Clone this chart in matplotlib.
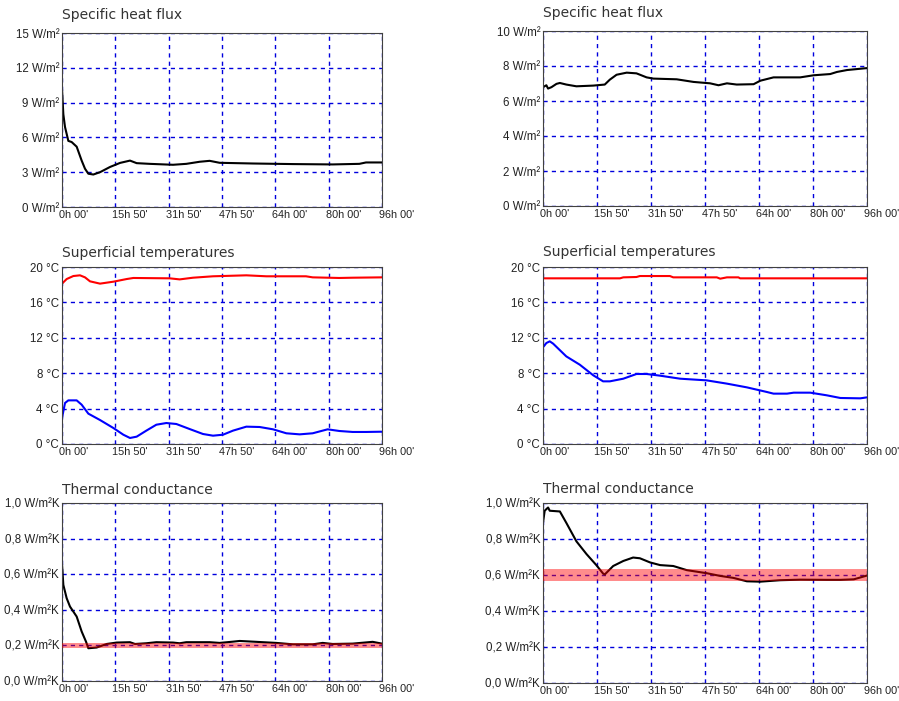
import numpy as np
import matplotlib
matplotlib.use("Agg")
import matplotlib.pyplot as plt
from matplotlib.transforms import offset_copy

#
# Data (time in hours)
#

xticks = [0, 16, 32, 48, 64, 80, 96]
xlabels = ["0h 00'", "15h 50'", "31h 50'", "47h 50'", "64h 00'", "80h 00'", "96h 00'"]

# specific heat flux, left wall [W/m2]
t_flux_l = [0, 0.4, 0.9, 1.9, 2.9, 4.4, 5.9, 6.9, 7.9, 9.4, 11.4, 14.4, 17.4, 20.4, 22.4,
            26.3, 33.3, 37.3, 41.3, 44.3, 47.3, 57.3, 69.3, 81.2, 89.2, 91.2, 96]
flux_l = [10.17, 8.0, 6.9, 5.7, 5.6, 5.2, 4.0, 3.3, 2.87, 2.8, 3.0, 3.45, 3.8, 4.0, 3.78,
          3.72, 3.64, 3.72, 3.9, 3.98, 3.81, 3.75, 3.7, 3.67, 3.72, 3.84, 3.84]

# specific heat flux, right wall
t_flux_r = [0, 1, 1.5, 2.5, 4, 5, 6.9, 9.9, 14.9, 18.3, 19.8, 21.8, 24.8, 27.7, 30.7, 32.7,
            39.6, 44.6, 49.5, 52, 54.5, 57.4, 62.4, 64.4, 68.3, 76.2, 80.2, 85.1, 87.1, 90.1, 96]
flux_r = [6.79, 6.9, 6.71, 6.79, 6.98, 7.03, 6.94, 6.84, 6.88, 6.94, 7.22, 7.5, 7.62, 7.58, 7.35, 7.28,
          7.24, 7.09, 7.01, 6.9, 7.01, 6.94, 6.96, 7.16, 7.35, 7.35, 7.47, 7.54, 7.66, 7.77, 7.88]

# superficial temperatures, left wall [C]
t_hot_l = [0, 1.4, 3.4, 5.4, 6.9, 8.4, 11.4, 15.4, 19.4, 21.4, 32.3, 35.3, 39.3, 45.3,
           55.3, 61.3, 73.2, 75.2, 83.2, 87.2, 96]
hot_l = [18.12, 18.64, 18.98, 19.06, 18.83, 18.38, 18.12, 18.34, 18.64, 18.76, 18.72, 18.6, 18.79, 18.95,
         19.06, 18.95, 18.95, 18.83, 18.76, 18.79, 18.83]
t_cold_l = [0, 0.9, 1.9, 4.4, 5.9, 7.9, 11.4, 15.4, 18.4, 20.4, 22.4, 25.3, 28.3, 31.3, 34.3, 38.3,
            42.3, 45.3, 48.3, 51.3, 55.3, 59.3, 63.3, 67.3, 71.3, 75.2, 79.7, 83.2, 87.2, 91.2, 96]
cold_l = [2.94, 4.63, 4.93, 4.93, 4.44, 3.43, 2.71, 1.81, 1.05, 0.68, 0.83, 1.51, 2.18, 2.37, 2.26, 1.69,
          1.13, 0.94, 1.05, 1.51, 1.96, 1.92, 1.66, 1.21, 1.09, 1.21, 1.66, 1.47, 1.36, 1.36, 1.39]

# superficial temperatures, right wall
t_hot_r = [0, 22.8, 23.8, 27.7, 28.7, 37.6, 38.6, 51.5, 52.5, 54.5, 57.9, 58.4, 96]
hot_r = [18.72, 18.72, 18.83, 18.87, 18.98, 18.98, 18.83, 18.83, 18.68, 18.83, 18.83, 18.72, 18.72]
t_cold_r = [0, 1, 2, 3, 6.9, 10.9, 14.9, 17.8, 19.8, 23.8, 27.7, 30.7, 34.7, 40.6, 48.5, 54.5,
            60.4, 66.3, 68.3, 72.3, 74.3, 79.2, 84.1, 88.1, 94, 96]
cold_r = [10.92, 11.41, 11.6, 11.34, 9.9, 8.96, 7.76, 7.08, 7.08, 7.38, 7.91, 7.91, 7.72, 7.38, 7.19, 6.82,
          6.4, 5.88, 5.69, 5.69, 5.8, 5.8, 5.5, 5.2, 5.16, 5.27]

# thermal conductance [W/m2K] and reference band
t_cond_l = [0, 0.4, 1.4, 2.4, 4.4, 5.9, 7.2, 7.9, 10.4, 13.4, 16.4, 20.4, 21.9, 25.3, 28.3, 33.3,
            35.3, 37.3, 44.3, 47.3, 51.3, 53.3, 57.3, 64.3, 69.3, 75.2, 78.2, 81.2, 87.2, 93.2, 96]
cond_l = [0.657, 0.54, 0.465, 0.418, 0.362, 0.278, 0.221, 0.184, 0.188, 0.208, 0.216, 0.218, 0.208, 0.212, 0.218, 0.216,
          0.212, 0.218, 0.218, 0.214, 0.221, 0.225, 0.221, 0.214, 0.206, 0.206, 0.214, 0.208, 0.21, 0.22, 0.21]
band_l = [0.187, 0.214]

t_cond_r = [0, 0.5, 1, 1.5, 2, 5, 6.9, 9.9, 12.9, 15.8, 17.8, 18.3, 20.8, 23.8, 26.7, 28.7, 31.7,
            34.7, 38.6, 42.6, 48.5, 52.5, 56.4, 60.4, 64.4, 70.3, 76.2, 84.1, 88.1, 92.1, 96]
cond_r = [0.89, 0.957, 0.966, 0.975, 0.957, 0.953, 0.89, 0.787, 0.716, 0.655, 0.608, 0.603, 0.65, 0.678, 0.697, 0.693, 0.67,
          0.655, 0.65, 0.627, 0.61, 0.595, 0.584, 0.565, 0.563, 0.571, 0.574, 0.573, 0.573, 0.576, 0.597]
band_r = [0.568, 0.632]

#
# Layout
#

W, H = 899, 701
plt.rcParams['font.family'] = "Liberation Sans"

fig = plt.figure(figsize=(W / 100, H / 100), dpi=100)


def make_axes(l, r, t, b, title, ty, yticks, ylabels):
    ax = fig.add_axes([l / W, 1 - b / H, (r - l) / W, (b - t) / H])
    ax.set_xlim(0, 96)
    ax.set_ylim(yticks[0], yticks[-1])
    ax.set_xticks(xticks)
    ax.set_xticklabels([])
    # time labels drawn by hand, starting a few pixels left of each grid line
    tr = offset_copy(ax.get_xaxis_transform(), fig=fig, x=-3, y=-3, units='dots')
    for x, lab in zip(xticks, xlabels):
        ax.text(x, 0, lab, transform=tr, ha='left', va='top', fontsize=7.8,
                color='#222222', clip_on=False)
    ax.set_yticks(yticks)
    ax.set_yticklabels(ylabels, fontsize=8.3, color='#222222')
    ax.tick_params(length=0, pad=2)
    ax.grid(True, color='#0000dd', linestyle=(0, (3, 3)), linewidth=1.0)
    for s in ax.spines.values():
        s.set_color('#404040')
        s.set_linewidth(0.8)
    fig.text(l / W, 1 - ty / H, title, fontsize=10, family='DejaVu Sans',
             ha='left', va='center', color='#333333')
    return ax


flux_ticks_l = [0, 3, 6, 9, 12, 15]
flux_ticks_r = [0, 2, 4, 6, 8, 10]
temp_ticks = [0, 4, 8, 12, 16, 20]
cond_ticks = [0, 0.2, 0.4, 0.6, 0.8, 1.0]

ax = make_axes(62, 382, 33, 207, "Specific heat flux", 15, flux_ticks_l,
               ["%d W/m²" % v for v in flux_ticks_l])
ax.plot(t_flux_l, flux_l, color='black', lw=1.5)

ax = make_axes(543, 867, 31, 206, "Specific heat flux", 13, flux_ticks_r,
               ["%d W/m²" % v for v in flux_ticks_r])
ax.plot(t_flux_r, flux_r, color='black', lw=1.5)

ax = make_axes(62, 382, 267, 444, "Superficial temperatures", 253, temp_ticks,
               ["%d °C" % v for v in temp_ticks])
ax.plot(t_hot_l, hot_l, color='#ff0000', lw=1.5)
ax.plot(t_cold_l, cold_l, color='#0000ff', lw=1.5)

ax = make_axes(543, 867, 267, 444, "Superficial temperatures", 252, temp_ticks,
               ["%d °C" % v for v in temp_ticks])
ax.plot(t_hot_r, hot_r, color='#ff0000', lw=1.5)
ax.plot(t_cold_r, cold_r, color='#0000ff', lw=1.5)

cond_labels = [("%.1f W/m²K" % v).replace('.', ',') for v in cond_ticks]

ax = make_axes(62, 382, 503, 681, "Thermal conductance", 490, cond_ticks, cond_labels)
ax.plot(t_cond_l, cond_l, color='black', lw=1.5)
ax.axhspan(band_l[0], band_l[1], color='#ff0000', alpha=0.45, lw=0, zorder=3)

ax = make_axes(543, 867, 503, 683, "Thermal conductance", 489, cond_ticks, cond_labels)
ax.plot(t_cond_r, cond_r, color='black', lw=1.5)
ax.axhspan(band_r[0], band_r[1], color='#ff0000', alpha=0.45, lw=0, zorder=3)

fig.savefig('out.png', dpi=100)
